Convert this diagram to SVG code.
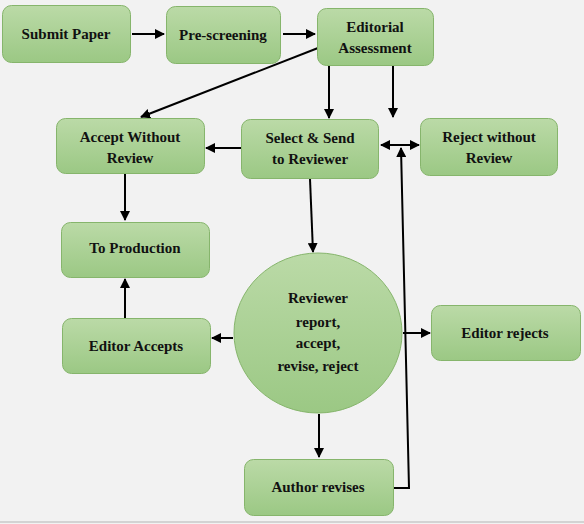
<svg xmlns="http://www.w3.org/2000/svg" width="584" height="524" viewBox="0 0 584 524">
<defs>
<linearGradient id="g" x1="0" y1="0" x2="0" y2="1">
<stop offset="0" stop-color="#bbdaa7"/>
<stop offset="1" stop-color="#9bc884"/>
</linearGradient>
<marker id="a" viewBox="0 0 10 10" refX="9" refY="5" markerWidth="5" markerHeight="5" orient="auto-start-reverse">
<path d="M0,0 L10,5 L0,10 z" fill="#000"/>
</marker>
<style>
.n{fill:url(#g);stroke:#86b56c;stroke-width:1}
.t{font-family:"Liberation Serif","Times New Roman",serif;font-weight:bold;font-size:15px;fill:#111;text-anchor:middle}
.c line,.c polyline{stroke:#000;stroke-width:2;fill:none}
</style>
</defs>
<rect width="584" height="524" fill="#f2f2f2"/>
<line x1="0" y1="522" x2="584" y2="522" stroke="#c8c8c8" stroke-width="1.5"/>
<g class="c">
<line x1="132" y1="34" x2="164" y2="34" marker-end="url(#a)"/>
<line x1="283" y1="34" x2="315" y2="34" marker-end="url(#a)"/>
<line x1="318" y1="48" x2="141" y2="117" marker-end="url(#a)"/>
<line x1="329" y1="66" x2="329" y2="118" marker-end="url(#a)"/>
<line x1="393" y1="66" x2="393" y2="117" marker-end="url(#a)"/>
<line x1="241" y1="148" x2="206" y2="148" marker-end="url(#a)"/>
<line x1="381" y1="145" x2="419" y2="145" marker-start="url(#a)" marker-end="url(#a)"/>
<polyline points="393,488 409,488 401,148" marker-end="url(#a)"/>
<line x1="310" y1="179" x2="313" y2="252" marker-end="url(#a)"/>
<line x1="125" y1="174" x2="125" y2="220" marker-end="url(#a)"/>
<line x1="125" y1="318" x2="125" y2="279" marker-end="url(#a)"/>
<line x1="233" y1="338" x2="212" y2="338" marker-end="url(#a)"/>
<line x1="403" y1="333" x2="430" y2="333" marker-end="url(#a)"/>
<line x1="319" y1="414" x2="319" y2="457" marker-end="url(#a)"/>
</g>
<g id="submit"><rect class="n" x="2.5" y="5.5" width="128" height="57" rx="9"/><text class="t" x="66" y="39">Submit Paper</text></g>
<g id="prescreen"><rect class="n" x="166.5" y="6.5" width="114" height="57" rx="9"/><text class="t" x="223" y="40">Pre-screening</text></g>
<g id="editorial"><rect class="n" x="317.5" y="8.5" width="116" height="57" rx="9"/><text class="t" x="375" y="32">Editorial</text><text class="t" x="375" y="53">Assessment</text></g>
<g id="accept"><rect class="n" x="56.5" y="118.5" width="148" height="55" rx="9"/><text class="t" x="130" y="142">Accept Without</text><text class="t" x="130" y="163">Review</text></g>
<g id="select"><rect class="n" x="241.5" y="119.5" width="137" height="59" rx="9"/><text class="t" x="310" y="143">Select &amp; Send</text><text class="t" x="310" y="164">to Reviewer</text></g>
<g id="reject"><rect class="n" x="420.5" y="118.5" width="137" height="57" rx="9"/><text class="t" x="489" y="142">Reject without</text><text class="t" x="489" y="163">Review</text></g>
<g id="production"><rect class="n" x="61.5" y="222.5" width="148" height="55" rx="9"/><text class="t" x="135" y="253">To Production</text></g>
<g id="editoraccepts"><rect class="n" x="62.5" y="318.5" width="148" height="55" rx="9"/><text class="t" x="136" y="351">Editor Accepts</text></g>
<g id="reviewer"><ellipse class="n" cx="318" cy="333" rx="84" ry="80"/><text class="t" x="318" y="303">Reviewer</text><text class="t" x="318" y="327">report,</text><text class="t" x="318" y="348">accept,</text><text class="t" x="318" y="371">revise, reject</text></g>
<g id="editorrejects"><rect class="n" x="431.5" y="305.5" width="149" height="55" rx="9"/><text class="t" x="505" y="338">Editor rejects</text></g>
<g id="author"><rect class="n" x="244.5" y="459.5" width="149" height="56" rx="9"/><text class="t" x="318" y="492">Author revises</text></g>
</svg>
